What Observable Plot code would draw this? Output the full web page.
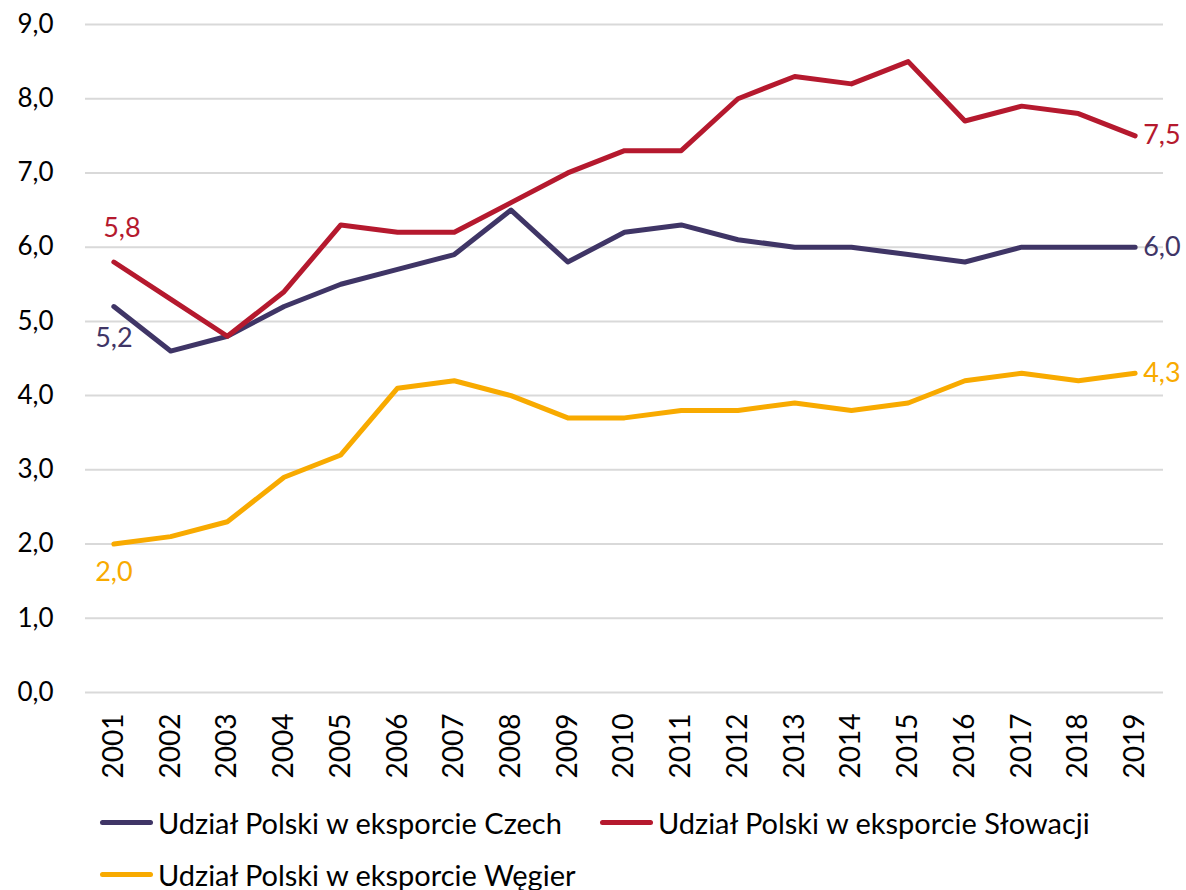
<!DOCTYPE html>
<html><head><meta charset="utf-8">
<script src="https://cdn.jsdelivr.net/npm/d3@7"></script>
<script src="https://cdn.jsdelivr.net/npm/@observablehq/plot@0.6"></script>
<style>
body{margin:0;background:#fff;font-family:Lato,"Open Sans",sans-serif;}
#wrap{position:relative;width:1186px;height:890px;}
#legend{position:absolute;left:0;top:787px;width:1186px;height:103px;}
.item{position:absolute;display:flex;align-items:center;font-size:29px;color:#000;height:40px;}
.sw{width:53px;height:5px;border-radius:3px;margin-right:5px;}
</style></head>
<body><div id="wrap"><div id="chart"></div><div id="legend"></div></div>
<script>
const years = ["2001","2002","2003","2004","2005","2006","2007","2008","2009","2010","2011","2012","2013","2014","2015","2016","2017","2018","2019"];
const czech = [5.2,4.6,4.8,5.2,5.5,5.7,5.9,6.5,5.8,6.2,6.3,6.1,6.0,6.0,5.9,5.8,6.0,6.0,6.0];
const slovakia = [5.8,5.3,4.8,5.4,6.3,6.2,6.2,6.6,7.0,7.3,7.3,8.0,8.3,8.2,8.5,7.7,7.9,7.8,7.5];
const hungary = [2.0,2.1,2.3,2.9,3.2,4.1,4.2,4.0,3.7,3.7,3.8,3.8,3.9,3.8,3.9,4.2,4.3,4.2,4.3];
const seriesNames = ["Udział Polski w eksporcie Czech","Udział Polski w eksporcie Słowacji","Udział Polski w eksporcie Węgier"];
const colors = ["#3F3566","#B5192E","#F8AA00"];
const yTicks = [0,1,2,3,4,5,6,7,8,9];

const allSeries = [czech, slovakia, hungary];
const data = [];
allSeries.forEach((arr, s) => arr.forEach((v, i) => data.push({year: years[i], value: v, series: seriesNames[s]})));
const fmt = v => v.toFixed(1).replace(".", ",");
const last = years.length - 1;
const endLabels = allSeries.map((arr, s) => ({year: years[last], value: arr[last], series: seriesNames[s]}));
const startLabels = allSeries.map((arr, s) => ({year: years[0], value: arr[0], series: seriesNames[s]}));

const chart = Plot.plot({
  width: 1186, height: 787,
  marginLeft: 85, marginRight: 23, marginTop: 24, marginBottom: 95,
  style: {fontFamily: "Lato, 'Open Sans', sans-serif", fontSize: "26px", color: "#000", background: "#fff"},
  x: {type: "point", domain: years, padding: 0.5, round: false, label: null},
  y: {domain: [0, 9], ticks: yTicks, label: null, tickFormat: fmt},
  color: {domain: seriesNames, range: colors},
  marks: [
    Plot.gridY(yTicks, {stroke: "#D9D9D9", strokeOpacity: 1, strokeWidth: 2}),
    Plot.axisY(yTicks, {tickSize: 0, tickPadding: 32, tickFormat: fmt, fontSize: 26, fill: "#000"}),
    Plot.axisX({tickSize: 0, tickRotate: -90, tickPadding: 21, fontSize: 28, fill: "#000"}),
    Plot.line(data, {x: "year", y: "value", z: "series", stroke: "series", strokeWidth: 5, strokeLinecap: "round", strokeLinejoin: "round"}),
    Plot.text(endLabels, {x: "year", y: "value", text: d => fmt(d.value), fill: "series", textAnchor: "start", dx: 8, fontSize: 27}),
    Plot.text([startLabels[1]], {x: "year", y: "value", text: d => fmt(d.value), fill: "series", dx: 8, dy: -34, fontSize: 27}),
    Plot.text([startLabels[0]], {x: "year", y: "value", text: d => fmt(d.value), fill: "series", dx: 0, dy: 32, fontSize: 27}),
    Plot.text([startLabels[2]], {x: "year", y: "value", text: d => fmt(d.value), fill: "series", dx: 0, dy: 28, fontSize: 27})
  ]
});
document.getElementById("chart").appendChild(chart);

const leg = document.getElementById("legend");
const pos = [[100, 15], [600, 15], [100, 67]];
seriesNames.forEach((n, i) => {
  const d = document.createElement("div");
  d.className = "item";
  d.style.left = pos[i][0] + "px";
  d.style.top = pos[i][1] + "px";
  d.innerHTML = `<span class="sw" style="background:${colors[i]}"></span><span>${n}</span>`;
  leg.appendChild(d);
});
</script>
</body></html>
